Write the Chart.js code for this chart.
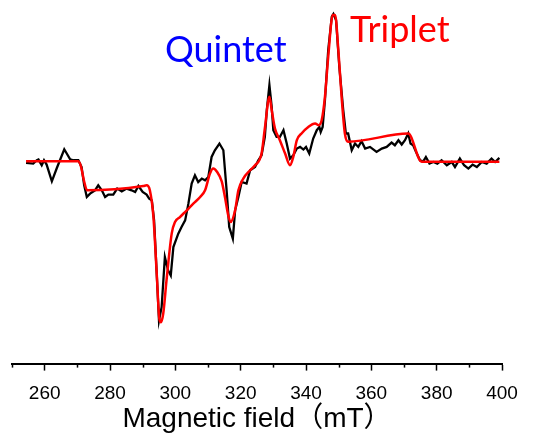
<!DOCTYPE html>
<html>
<head>
<meta charset="utf-8">
<script src="https://cdn.jsdelivr.net/npm/chart.js@4/dist/chart.umd.min.js"></script>
<style>
  html, body { margin: 0; padding: 0; background: #fff; }
  canvas { display: block; }
</style>
</head>
<body>
<canvas id="epr" width="543" height="441"></canvas>
<script>
// Measured EPR spectrum (field in mT, intensity in arbitrary units)
const measuredField = [
  254.3, 256.5, 257.6, 258.1, 259.1, 259.8, 260.6, 262.2, 263.7, 266.0,
  267.8, 268.8, 270.3, 271.3, 272.1, 272.9, 273.9, 275.4, 276.4, 277.5,
  278.5, 279.5, 281.0, 282.2, 283.6, 285.1, 286.6, 287.7, 288.7, 290.0,
  291.2, 292.0, 292.8, 293.5, 294.3, 295.0, 295.8, 296.8, 297.8, 298.6,
  299.4, 300.9, 301.9, 303.0, 304.0, 305.0, 306.0, 307.0, 308.1, 309.1,
  310.1, 311.1, 312.1, 313.5, 314.7, 315.7, 316.5, 317.6, 318.3, 319.3,
  320.3, 321.8, 322.9, 324.4, 325.4, 326.4, 327.4, 328.0, 328.8, 329.5,
  330.0, 331.0, 332.0, 333.1, 334.1, 335.1, 336.1, 337.2, 338.2, 339.2,
  340.0, 341.0, 342.2, 343.3, 344.1, 344.5, 345.1, 345.8, 346.8, 347.9,
  348.4, 349.2, 350.2, 351.4, 352.2, 352.9, 354.0, 355.0, 356.0, 357.0,
  358.1, 359.6, 361.6, 363.2, 364.7, 366.2, 367.2, 368.3, 369.3, 370.3,
  371.3, 372.0, 372.8, 373.7, 374.9, 375.9, 376.7, 377.8, 379.0, 380.2,
  381.5, 383.1, 384.6, 385.6, 387.1, 388.4, 389.7, 391.0, 392.3, 393.8,
  395.3, 396.8, 397.9, 399.2
];
const measuredSignal = [
  -2.7, -3.3, 0, 0.7, -5, 0, -4.3, -21, -8, 11,
  1, 0, 0, -6.7, -25, -36.7, -33.3, -30, -25, -30,
  -36.7, -34.3, -34.3, -28.3, -31, -28.3, -30, -31.7, -25.7, -31.7,
  -34.3, -38.3, -40, -60, -113, -160, -146.7, -96.7, -110, -115,
  -86.7, -73.3, -66.7, -60, -43.3, -23.3, -15, -21.7, -18.3, -20,
  -16.7, 3.3, 10, 16.7, 10, -30, -66.7, -78.3, -50, -36.7,
  -21.7, -23.3, -10, -6.7, 0, 5, 23.3, 50, 75, 53.3,
  30, 23.3, 23.3, 30, 16.7, 1.7, 5, 11.7, 13.3, 10.7,
  13.3, 6.7, 21.7, 30, 33.3, 28.3, 33.3, 60, 110, 143.3,
  146, 140, 93.3, 50, 26.7, 26.7, 10, 16.7, 13.3, 19,
  11.7, 13.3, 8.3, 11.7, 13.3, 17.7, 15, 20, 15.7, 20,
  26.7, 16.7, 15, 8.3, 0, -1, 3.3, -3.3, -1.7, -3.3,
  0, -5, -1.7, -6.7, 1.7, -5, -8.3, -4.3, -6.7, -1.7,
  -3.3, 1.7, -1.7, 2.3
];

// Simulated spectrum (quintet + triplet components)
const simulatedField = [
  254.3, 270.2, 271.1, 272.0, 273.0, 290.2, 291.2, 292.2, 293.3, 294.3,
  295.1, 295.6, 296.3, 297.3, 298.9, 299.9, 301.4, 303.5, 305.5, 307.6,
  309.1, 310.6, 311.6, 312.8, 314.2, 315.2, 316.2, 316.9, 318.3, 319.3,
  320.8, 322.9, 324.4, 326.4, 327.4, 328.8, 329.5, 330.5, 332.0, 333.6,
  335.1, 336.1, 337.2, 338.7, 340.7, 342.8, 343.8, 344.8, 345.8, 346.8,
  348.2, 348.9, 349.9, 350.9, 351.9, 352.9, 371.3, 375.4, 399.2
];
const simulatedSignal = [
  -1, -1, -6, -20, -30, -25.7, -25, -30, -56.7, -113,
  -158, -161.7, -153, -120, -73, -61.7, -56.7, -50, -43.3, -36.7,
  -30, -13.3, -8.3, -11.7, -21, -37, -55, -61.7, -50, -30,
  -18.3, -10, -5, 6.7, 31.7, 63.3, 50, 31.7, 20, 6.7,
  -5, 3.3, 20, 27, 33.3, 36.7, 35, 40, 63.3, 103.3,
  145, 145, 110, 63.3, 26.7, 18.5, 26.7, -1.5, -1.5
];

// Axis ticks
const majorTicks = [260, 280, 300, 320, 340, 360, 380, 400];
const minorTicks = [250, 270, 290, 310, 330, 350, 370, 390];

// Component labels
const labelTexts = ['Quintet', 'Triplet'];
const labelColors = ['#0000ff', '#ff0000'];
const labelAnchors = [[296.8, 98], [353.5, 118]];

const toPoints = (xs, ys) => xs.map((x, i) => ({ x: x, y: ys[i] }));

const minorTickPlugin = {
  id: 'minorTicks',
  afterDraw(chart) {
    const { ctx, scales: { x }, chartArea } = chart;
    ctx.save();
    ctx.strokeStyle = '#000';
    ctx.lineWidth = 1.5;
    minorTicks.forEach(v => {
      const px = Math.round(x.getPixelForValue(v)) + 0.5;
      ctx.beginPath();
      ctx.moveTo(px, chartArea.bottom);
      ctx.lineTo(px, chartArea.bottom + 4);
      ctx.stroke();
    });
    ctx.restore();
  }
};

const componentLabelPlugin = {
  id: 'componentLabels',
  afterDraw(chart) {
    const { ctx, scales: { x, y } } = chart;
    ctx.save();
    ctx.font = '36px Lato, "Noto Sans", sans-serif';
    ctx.textAlign = 'left';
    ctx.textBaseline = 'alphabetic';
    labelTexts.forEach((t, i) => {
      ctx.fillStyle = labelColors[i];
      ctx.fillText(t, x.getPixelForValue(labelAnchors[i][0]), y.getPixelForValue(labelAnchors[i][1]));
    });
    ctx.restore();
  }
};

new Chart(document.getElementById('epr'), {
  type: 'line',
  data: {
    datasets: [
      {
        label: 'Simulation',
        data: toPoints(simulatedField, simulatedSignal),
        borderColor: '#ff0000',
        borderWidth: 2.5,
        pointRadius: 0,
        cubicInterpolationMode: 'monotone',
        order: 0
      },
      {
        label: 'Experiment',
        data: toPoints(measuredField, measuredSignal),
        borderColor: '#000000',
        borderWidth: 2.3,
        pointRadius: 0,
        tension: 0,
        order: 1
      }
    ]
  },
  options: {
    responsive: false,
    animation: false,
    layout: { padding: { left: 12, right: 41, top: 0, bottom: 3 } },
    plugins: {
      legend: { display: false },
      tooltip: { enabled: false }
    },
    scales: {
      x: {
        type: 'linear',
        min: 250,
        max: 400,
        afterBuildTicks: axis => { axis.ticks = majorTicks.map(v => ({ value: v })); },
        border: { display: true, color: '#000', width: 2 },
        grid: { drawOnChartArea: false, drawTicks: true, tickLength: 7, tickColor: '#000', tickWidth: 1.5 },
        ticks: {
          color: '#000',
          padding: 12,
          maxRotation: 0,
          font: { family: '"Liberation Sans", Arial, sans-serif', size: 19 },
          callback: v => String(v)
        },
        title: {
          display: true,
          text: 'Magnetic field（mT）',
          color: '#000',
          padding: { top: -15, bottom: 2 },
          font: { family: '"Liberation Sans", "Noto Sans CJK JP", sans-serif', size: 28 }
        }
      },
      y: {
        display: false,
        min: -203,
        max: 160
      }
    }
  },
  plugins: [minorTickPlugin, componentLabelPlugin]
});
</script>
</body>
</html>
